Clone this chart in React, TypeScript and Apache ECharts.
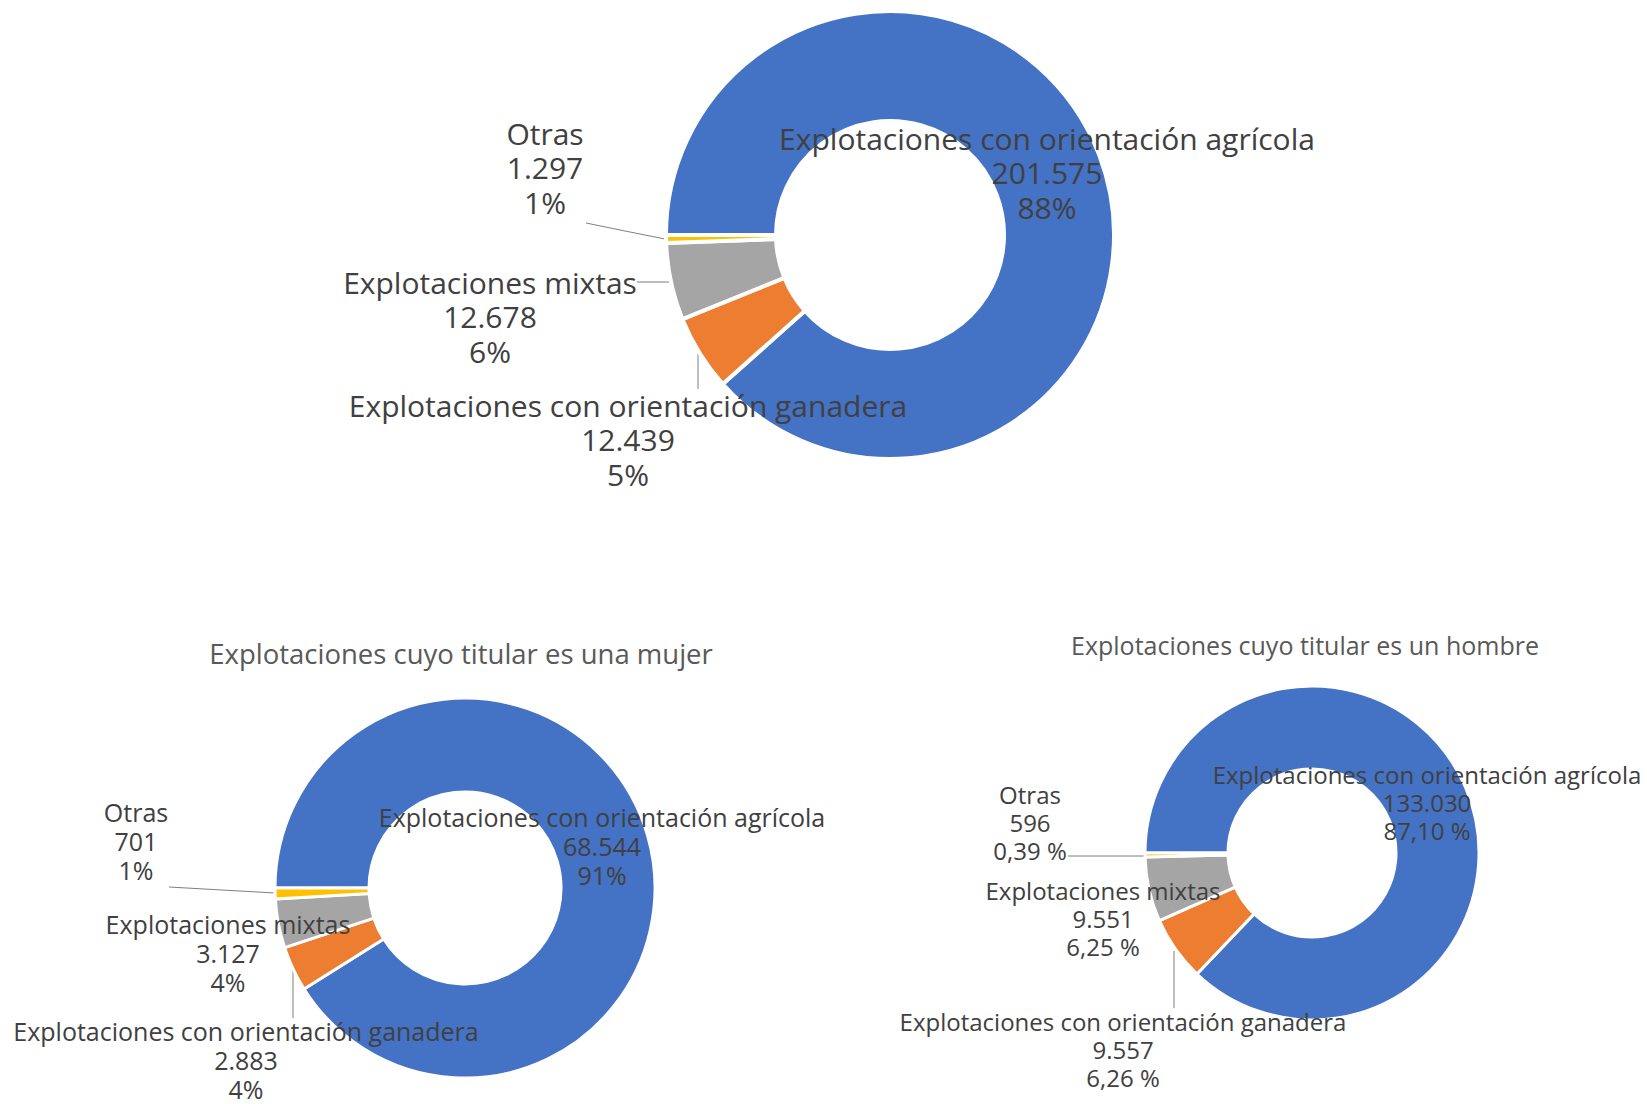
import React, { useEffect, useRef } from 'react';
import * as echarts from 'echarts';

const categories = [
  'Explotaciones con orientación agrícola',
  'Explotaciones con orientación ganadera',
  'Explotaciones mixtas',
  'Otras',
];
const totalValues = [201575, 12439, 12678, 1297];
const mujerValues = [68544, 2883, 3127, 701];
const hombreValues = [133030, 9557, 9551, 596];
const titles = ['Explotaciones cuyo titular es una mujer', 'Explotaciones cuyo titular es un hombre'];
const colors = ['#4472C4', '#ED7D31', '#A5A5A5', '#FFC000'];

const FONT = '"Open Sans", "Noto Sans", sans-serif';

const fmtNum = (v: number) => String(v).replace(/\B(?=(\d{3})+(?!\d))/g, '.');
const pctInt = (p: number) => `${Math.round(p)}%`;
const pctDec = (p: number) => `${p.toFixed(2).replace('.', ',')} %`;

type Pt = [number, number];

function makeSeries(
  name: string,
  values: number[],
  center: Pt,
  radius: [number, number],
  fontSize: number,
  lineHeight: number,
  labelPos: Pt[],
  leaders: (Pt[] | null)[],
  pctFmt: (p: number) => string,
  borderWidth: number
) {
  return {
    type: 'pie',
    name,
    center,
    radius,
    startAngle: 180,
    clockwise: true,
    avoidLabelOverlap: false,
    emphasis: { disabled: true },
    itemStyle: { borderColor: '#ffffff', borderWidth },
    label: {
      show: true,
      position: 'outside',
      color: '#404040',
      fontFamily: FONT,
      fontSize,
      lineHeight,
      align: 'center',
      formatter: (p: any) => `${p.name}\n${fmtNum(p.value)}\n${pctFmt(p.percent)}`,
    },
    labelLine: { show: true, lineStyle: { color: '#7f7f7f', width: 1 } },
    labelLayout: (p: any) => {
      const i = p.dataIndex;
      const pos = labelPos[i];
      const res: any = { x: pos[0], y: pos[1], align: 'center', verticalAlign: 'middle' };
      if (leaders[i]) res.labelLinePoints = leaders[i];
      return res;
    },
    data: categories.map((c, i) => ({
      name: c,
      value: values[i],
      itemStyle: { color: colors[i] },
      labelLine: { show: !!leaders[i] },
    })),
  };
}

export default function App() {
  const ref = useRef<HTMLDivElement>(null);
  useEffect(() => {
    document.body.style.margin = '0';
    const chart = echarts.init(ref.current!, undefined, { renderer: 'svg' });
    chart.setOption({
      animation: false,
      backgroundColor: '#ffffff',
      graphic: [
        {
          type: 'text',
          x: 461,
          y: 653,
          style: {
            text: titles[0],
            font: `27.5px ${FONT}`,
            fill: '#595959',
            textAlign: 'center',
            textVerticalAlign: 'middle',
          },
        },
        {
          type: 'text',
          x: 1305,
          y: 645,
          style: {
            text: titles[1],
            font: `25px ${FONT}`,
            fill: '#595959',
            textAlign: 'center',
            textVerticalAlign: 'middle',
          },
        },
      ],
      series: [
        makeSeries(
          'Total',
          totalValues,
          [890, 235],
          [114, 224],
          30,
          34.5,
          [
            [1047, 172.5],
            [628, 439.5],
            [490, 316.5],
            [545, 167.5],
          ],
          [
            null,
            [[698, 389], [698, 371], [698, 354]],
            [[637, 282], [653, 282], [669, 282]],
            [[586, 223], [625, 231], [665, 239]],
          ],
          pctInt,
          4
        ),
        makeSeries(
          'Mujer',
          mujerValues,
          [465, 888],
          [96, 190],
          25,
          29,
          [
            [602, 846],
            [246, 1060],
            [228, 953],
            [136, 841],
          ],
          [
            null,
            [[293, 1018], [293, 993], [293, 968]],
            null,
            [[169, 887], [222, 890], [275, 893]],
          ],
          pctInt,
          3
        ),
        makeSeries(
          'Hombre',
          hombreValues,
          [1312, 853],
          [84, 167],
          24,
          28,
          [
            [1427, 802],
            [1123, 1049],
            [1103, 918],
            [1030, 822.5],
          ],
          [
            null,
            [[1174, 1008], [1174, 980], [1174, 951]],
            null,
            [[1068, 856], [1106, 856], [1144, 856]],
          ],
          pctDec,
          3
        ),
      ],
    });
    return () => chart.dispose();
  }, []);
  return <div ref={ref} style={{ width: 1647, height: 1104 }} />;
}
